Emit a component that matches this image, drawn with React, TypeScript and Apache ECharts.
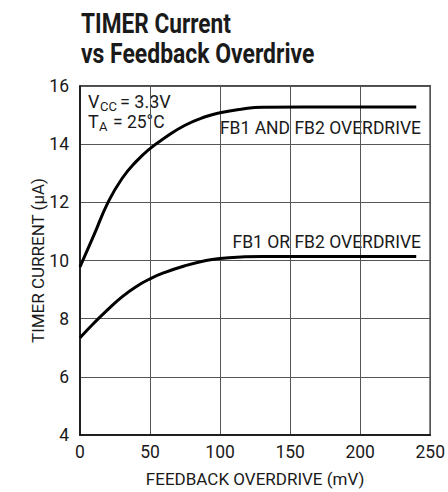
import React, { useEffect, useRef } from "react";
import * as echarts from "echarts";

const overdriveMV = [0, 10, 20, 30, 40, 50, 60, 75, 90, 100, 115, 130, 160, 200, 240];
const bothOverdrive = [9.78, 10.88, 12.0, 12.82, 13.4, 13.85, 14.2, 14.65, 14.95, 15.08, 15.2, 15.27, 15.28, 15.28, 15.28];
const eitherOverdrive = [7.34, 7.85, 8.32, 8.75, 9.1, 9.37, 9.58, 9.82, 10.0, 10.07, 10.12, 10.14, 10.14, 10.14, 10.14];

const xTicks = [0, 50, 100, 150, 200, 250];
const yTicks = [4, 6, 8, 10, 12, 14, 16];

const FONT = "Roboto, 'Liberation Sans', sans-serif";
const INK = "#1a1a1a";

export default function App() {
  const ref = useRef<HTMLDivElement>(null);
  useEffect(() => {
    if (!ref.current) return;
    const chart = echarts.init(ref.current, undefined, { renderer: "svg" });
    const pair = (ys: number[]) => overdriveMV.map((x, i) => [x, ys[i]]);
    const txt = (x: number, y: number, text: string, size: number, extra: any = {}) => ({
      type: "text",
      x,
      y,
      ...extra,
      style: {
        text,
        font: `${extra.bold ? "bold " : ""}${size}px ${FONT}`,
        fill: INK,
        verticalAlign: "middle",
        textVerticalAlign: "middle",
        ...(extra.style || {}),
      },
    });
    chart.setOption({
      animation: false,
      backgroundColor: "#ffffff",
      grid: {
        left: 80,
        right: 16,
        top: 86,
        bottom: 55,
        show: true,
        borderColor: "#111",
        borderWidth: 1.5,
      },
      xAxis: {
        type: "value",
        min: xTicks[0],
        max: xTicks[xTicks.length - 1],
        interval: 50,
        name: "FEEDBACK OVERDRIVE (mV)",
        nameLocation: "middle",
        nameGap: 35,
        nameMoveOverlap: false,
        nameTextStyle: { fontFamily: FONT, fontSize: 17, color: INK },
        axisLine: { show: true, lineStyle: { color: "#111", width: 1.5 } },
        axisTick: { show: false },
        axisLabel: { fontFamily: FONT, fontSize: 17.5, color: INK, margin: 8 },
        splitLine: { show: true, lineStyle: { color: "#555", width: 1 } },
      },
      yAxis: {
        type: "value",
        min: yTicks[0],
        max: yTicks[yTicks.length - 1],
        interval: 2,
        name: "TIMER CURRENT (\u00b5A)",
        nameLocation: "middle",
        nameRotate: 90,
        nameGap: 34,
        nameMoveOverlap: false,
        nameTextStyle: { fontFamily: FONT, fontSize: 17, color: INK },
        axisLine: { show: true, lineStyle: { color: "#111", width: 1.5 } },
        axisTick: { show: false },
        axisLabel: { fontFamily: FONT, fontSize: 17.5, color: INK, margin: 11 },
        splitLine: { show: true, lineStyle: { color: "#555", width: 1 } },
      },
      series: [
        {
          name: "FB1 AND FB2 OVERDRIVE",
          type: "line",
          data: pair(bothOverdrive),
          smooth: 0.5,
          showSymbol: false,
          lineStyle: { color: "#000", width: 3 },
          z: 5,
        },
        {
          name: "FB1 OR FB2 OVERDRIVE",
          type: "line",
          data: pair(eitherOverdrive),
          smooth: 0.5,
          showSymbol: false,
          lineStyle: { color: "#000", width: 3 },
          z: 5,
        },
      ],
      graphic: [
        txt(81, 23.5, "TIMER Current", 27, { bold: true, scaleX: 0.84 }),
        txt(81, 53.5, "vs Feedback Overdrive", 27, { bold: true, scaleX: 0.85 }),
        { type: "rect", shape: { x: 145, y: 87, width: 12, height: 52 }, style: { fill: "#fff" } },
        txt(88, 101.5, "V", 18),
        txt(100, 106.5, "CC", 13),
        txt(120, 101.5, "= 3.3V", 18),
        txt(88, 121.5, "T", 18),
        txt(99, 126.5, "A", 13),
        txt(113, 121.5, "= 25\u00b0C", 17.5),
        txt(424, 127.5, "FB1 AND FB2 OVERDRIVE", 17.5, {
          style: { align: "right", textAlign: "right", backgroundColor: "#fff", padding: [2, 3, 2, 3] },
        }),
        txt(424, 241.5, "FB1 OR FB2 OVERDRIVE", 17.5, {
          style: { align: "right", textAlign: "right", backgroundColor: "#fff", padding: [2, 3, 2, 3] },
        }),
      ],
    });
    return () => chart.dispose();
  }, []);
  return (
    <div
      ref={ref}
      style={{ position: "fixed", left: 0, top: 0, width: 448, height: 492, background: "#fff" }}
    />
  );
}
